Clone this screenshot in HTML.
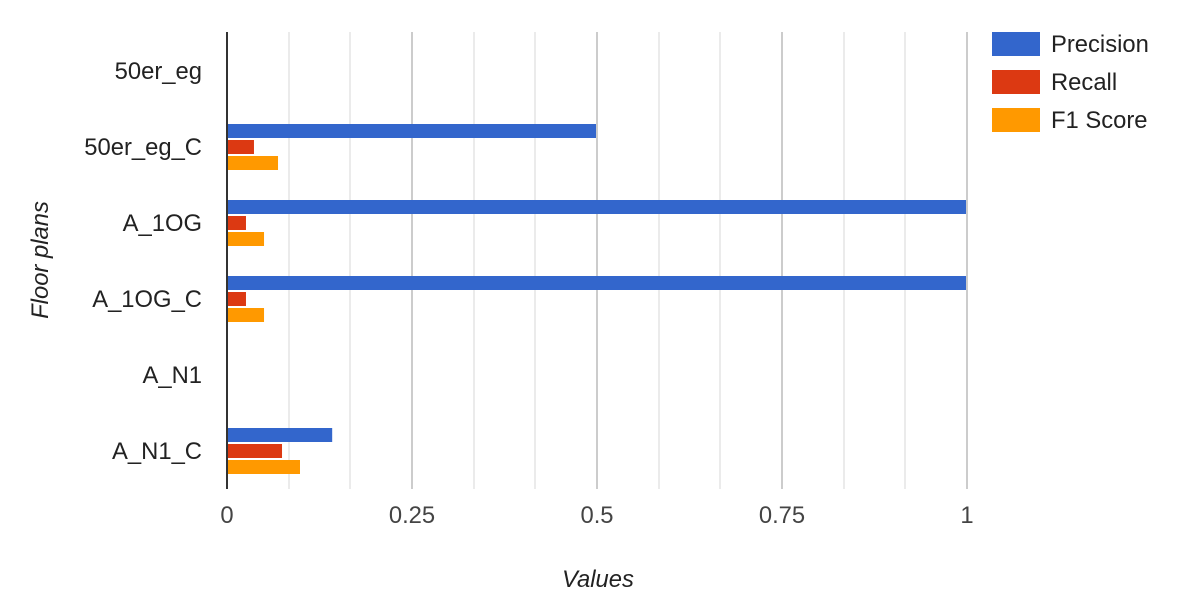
<!DOCTYPE html>
<html lang="en">
<head>
<meta charset="utf-8">
<title>Floor plan scores</title>
<style>
html,body{margin:0;padding:0;background:#fff;}
body{width:1178px;height:612px;overflow:hidden;}
svg{display:block;font-family:"Liberation Sans",Arial,sans-serif;}
text{font-size:23.8px;fill:#444;}
.y-label{fill:#222;}
.axis-title{font-style:italic;fill:#222;}
.legend-text{fill:#222;}
</style>
</head>
<body>
<svg id="chart" width="1178" height="612" viewBox="0 0 1178 612" xmlns="http://www.w3.org/2000/svg"></svg>
<script>
const categories = ['50er_eg', '50er_eg_C', 'A_1OG', 'A_1OG_C', 'A_N1', 'A_N1_C'];
const seriesNames = ['Precision', 'Recall', 'F1 Score'];
const seriesColors = ['#3366cc', '#dc3912', '#ff9900'];
const precision = [0, 0.5, 1, 1, 0, 0.1435];
const recall = [0, 0.0378, 0.027, 0.027, 0, 0.0757];
const f1Score = [0, 0.0703, 0.0514, 0.0514, 0, 0.1];
const xTicks = [0, 0.25, 0.5, 0.75, 1];
const xTickLabels = ['0', '0.25', '0.5', '0.75', '1'];
const xMinorTicks = [0.0833, 0.1667, 0.3333, 0.4167, 0.5833, 0.6667, 0.8333, 0.9167];

const svg = document.getElementById('chart');
const NS = 'http://www.w3.org/2000/svg';
const plot = {left: 227, right: 967, top: 33, bottom: 489};
const allSeries = [precision, recall, f1Score];

function xScale(v) { return plot.left + v * (plot.right - plot.left); }
function bandTop(i) { return plot.top + i * (plot.bottom - plot.top) / categories.length; }
function bandCenter(i) { return bandTop(i + 0.5); }

function make(tag, attrs, text) {
  const el = document.createElementNS(NS, tag);
  for (const k in attrs) el.setAttribute(k, attrs[k]);
  if (text !== undefined) el.textContent = text;
  svg.appendChild(el);
  return el;
}

xMinorTicks.forEach(function (t) {
  const el = make('rect', {x: Math.round(xScale(t)) - 1, y: plot.top - 1, width: 2, height: plot.bottom - plot.top + 1, fill: '#ebebeb'});
  
  
});

xTicks.forEach(function (t, i) {
  if (t !== 0) {
    const g = make('rect', {x: Math.round(xScale(t)) - 1, y: plot.top - 1, width: 2, height: plot.bottom - plot.top + 1, fill: '#cccccc'});
    
    
  }
  const lab = make('text', {x: xScale(t), y: 523, 'text-anchor': 'middle'}, xTickLabels[i]);
  
  
});

const barHeight = 14, barStep = 16;
categories.forEach(function (c, i) {
  const lab = make('text', {x: 202, y: bandCenter(i) + 8, 'text-anchor': 'end', 'class': 'y-label'}, c);
  
  
  allSeries.forEach(function (vals, s) {
    const v = vals[i];
    if (v <= 0) return;
    const y = bandCenter(i) - 23 + s * barStep;
    const bar = make('rect', {x: plot.left + 1, y: y, width: xScale(v) - plot.left - 2, height: barHeight, fill: seriesColors[s]});
    
    
  });
});

const axisLine = make('rect', {x: plot.left - 1, y: plot.top - 1, width: 2, height: plot.bottom - plot.top + 1, fill: '#333333'});



seriesNames.forEach(function (n, s) {
  const sw = make('rect', {x: 992, y: 32 + s * 38, width: 48, height: 24, fill: seriesColors[s]});
  
  
  const tx = make('text', {x: 1051, y: 52 + s * 38, 'class': 'legend-text'}, n);
  
  
});

const xTitle = make('text', {x: 598, y: 587, 'text-anchor': 'middle', 'class': 'axis-title'}, 'Values');



const yTitle = make('text', {x: 0, y: 0, 'text-anchor': 'middle', 'class': 'axis-title', transform: 'translate(48 260) rotate(-90)'}, 'Floor plans');


</script>
</body>
</html>
